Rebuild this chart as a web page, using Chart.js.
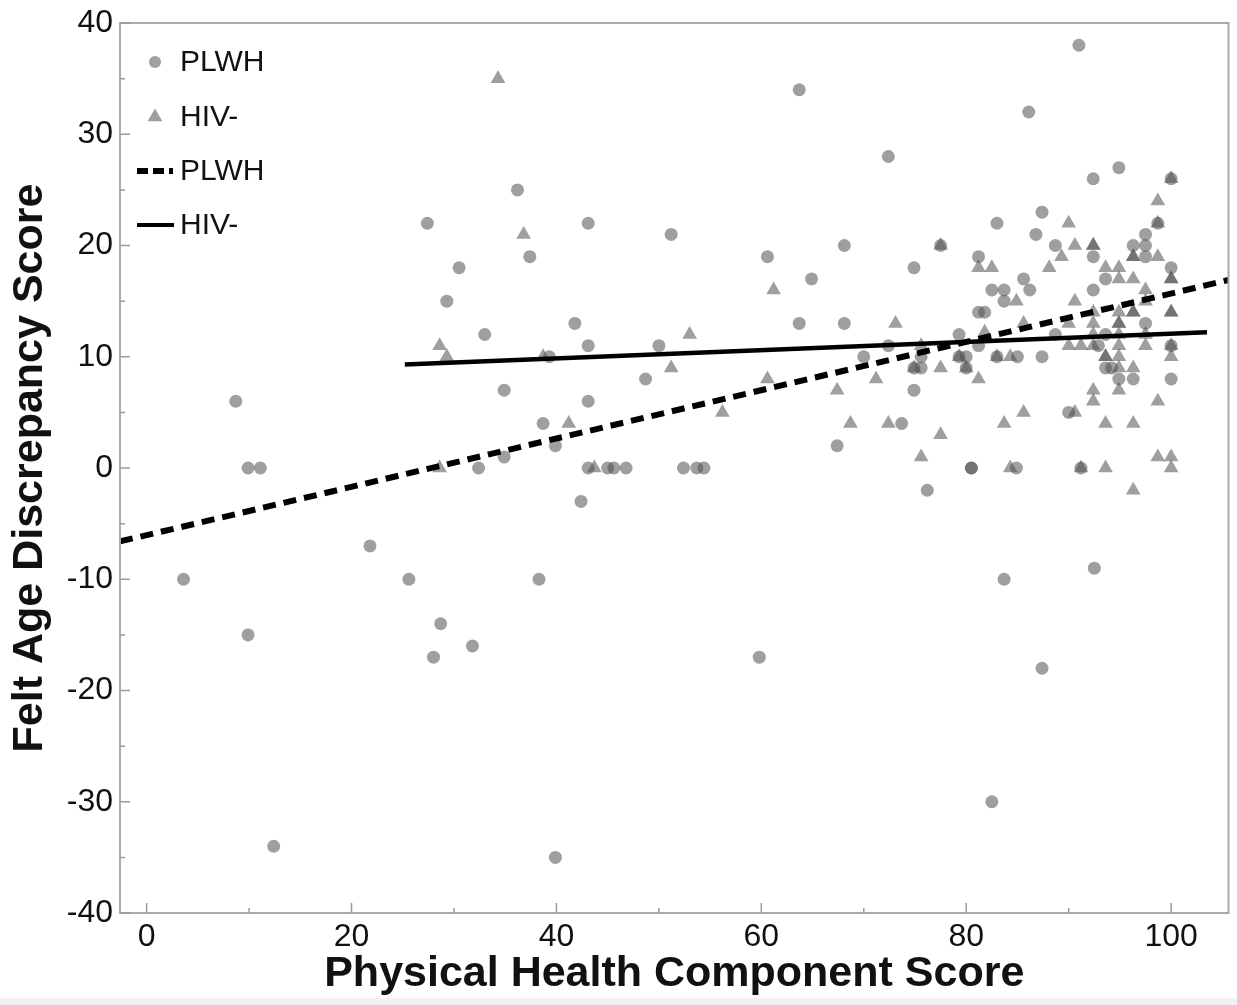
<!DOCTYPE html>
<html>
<head>
<meta charset="utf-8">
<script src="https://cdn.jsdelivr.net/npm/chart.js@4.4.1/dist/chart.umd.min.js"></script>
<style>
  html, body { margin: 0; padding: 0; background: #ffffff; }
  #wrap { width: 1237px; height: 1005px; position: relative; }
</style>
</head>
<body>
<div id="wrap"><canvas id="c" width="1237" height="1005"></canvas></div>
<script>
// ---- Data ----
const xTicks = [0, 20, 40, 60, 80, 100];
const yTicks = [-40, -30, -20, -10, 0, 10, 20, 30, 40];
const xMinorTicks = [10, 30, 50, 70, 90];
const yMinorTicks = [-35, -25, -15, -5, 5, 15, 25, 35];

// PLWH (circles)
const plwhX = [3.6, 8.7, 9.9, 11.1, 9.9, 12.4, 21.8, 25.6, 28.7, 28.0, 31.8, 34.9, 38.7, 34.9, 32.4, 38.3, 39.9, 59.8,
  63.7, 36.2, 27.4, 43.1, 51.2, 37.4, 30.5, 60.6, 64.9, 29.3, 41.8, 63.7, 33.0, 43.1, 50.0, 39.3, 48.7, 43.1, 39.9,
  43.1, 45.0, 45.6, 46.8, 52.4, 53.7, 54.4, 42.4,
  72.4, 94.9, 92.4, 100, 87.4, 83.0, 98.7, 68.1, 77.5, 86.8, 88.7, 92.4, 96.3, 97.5, 97.5, 97.5, 81.2, 74.9, 100,
  93.6, 85.6, 82.5, 83.7, 86.2, 92.4, 83.7, 81.2, 81.8, 97.5, 68.1, 88.7, 93.6, 79.3, 72.4, 81.2, 92.9, 100,
  70.0, 75.6, 79.3, 80.0, 83.0, 85.0, 87.4, 74.9, 75.6, 80.0, 93.6, 94.2, 94.9, 96.3, 74.9, 100, 90.0, 73.7, 67.4,
  76.2, 80.5, 80.5, 84.9, 91.2, 83.7, 92.5, 87.4, 82.5, 91.0, 86.1];
const plwhY = [-10, 6, 0, 0, -15, -34, -7, -10, -14, -17, -16, 7, 4, 1, 0, -10, -35, -17,
  34, 25, 22, 22, 21, 19, 18, 19, 17, 15, 13, 13, 12, 11, 11, 10, 8, 6, 2,
  0, 0, 0, 0, 0, 0, 0, -3,
  28, 27, 26, 26, 23, 22, 22, 20, 20, 21, 20, 19, 20, 21, 20, 19, 19, 18, 18,
  17, 17, 16, 16, 16, 16, 15, 14, 14, 13, 13, 12, 12, 12, 11, 11, 11, 11,
  10, 10, 10, 10, 10, 10, 10, 9, 9, 9, 9, 9, 8, 8, 7, 8, 5, 4, 2,
  -2, 0, 0, 0, 0, -10, -9, -18, -30, 38, 32];

// HIV- (triangles)
const hivX = [34.3, 36.8, 61.2, 53.0, 28.6, 29.3, 38.7, 51.2, 60.6, 56.2, 41.2, 28.6, 43.7,
  100, 98.7, 90.0, 98.7, 77.5, 90.6, 92.4, 92.4, 96.3, 96.3, 98.7, 89.3, 81.2, 82.5, 88.1, 93.6, 94.9,
  94.9, 96.3, 100, 100, 97.5, 97.5, 90.6, 84.9, 73.1, 85.6, 92.4, 96.3, 96.3, 100, 100, 94.9, 94.9, 94.9,
  90.0, 92.4, 92.4, 94.9, 97.5, 81.8, 75.6, 90.0, 91.2, 92.4, 94.9, 97.5, 100, 79.3, 83.0, 84.3, 93.6, 93.6,
  94.9, 100, 74.9, 77.5, 80.0, 94.9, 96.3, 81.2, 71.2, 67.4, 92.4, 94.9, 92.4, 98.7, 90.6, 85.6, 68.7, 72.4,
  83.7, 93.6, 96.3, 77.5, 75.6, 98.7, 100, 84.3, 91.2, 93.6, 100, 96.3];
const hivY = [35, 21, 16, 12, 11, 10, 10, 9, 8, 5, 4, 0, 0,
  26, 24, 22, 22, 20, 20, 20, 20, 19, 19, 19, 19, 18, 18, 18, 18, 18,
  17, 17, 17, 17, 16, 15, 15, 15, 13, 13, 14, 14, 14, 14, 14, 13, 13, 14,
  13, 13, 12, 12, 12, 12.2, 11, 11, 11, 11, 11, 11, 11, 10, 10, 10, 10, 10,
  10, 10, 9, 9, 9, 9, 9, 8, 8, 7, 7, 7, 6, 6, 5, 5, 4, 4,
  4, 4, 4, 3, 1, 1, 1, 0, 0, 0, 0, -2];

// Fitted lines (endpoints as drawn)
const plwhFitX = [-2.6, 105.6];
const plwhFitY = [-6.6, 16.9];
const hivFitX = [25.2, 103.5];
const hivFitY = [9.3, 12.2];

const legendLabels = ['PLWH', 'HIV-', 'PLWH', 'HIV-'];
const xTitle = 'Physical Health Component Score';
const yTitle = 'Felt Age Discrepancy Score';

// ---- Build ----
const toPts = (xs, ys) => xs.map((x, i) => ({ x: x, y: ys[i] }));
const FONT = '"Liberation Sans", Arial, Helvetica, sans-serif';
const markerColor = 'rgba(80,80,80,0.55)';

const framePlugin = {
  id: 'frameTicksLegend',
  afterDraw(chart) {
    const ctx = chart.ctx;
    const a = chart.chartArea;
    const xs = chart.scales.x, ys = chart.scales.y;
    ctx.save();
    // faint strip at the very bottom of the picture
    ctx.fillStyle = '#f2f2f2';
    ctx.fillRect(0, chart.height - 7, chart.width, 7);
    // frame
    ctx.strokeStyle = '#ababab';
    ctx.lineWidth = 2;
    ctx.strokeRect(a.left, a.top, a.right - a.left, a.bottom - a.top);
    // inward ticks
    ctx.strokeStyle = '#9a9a9a';
    ctx.lineWidth = 1.5;
    ctx.beginPath();
    xTicks.forEach(v => { const p = xs.getPixelForValue(v); ctx.moveTo(p, a.bottom); ctx.lineTo(p, a.bottom - 10); });
    xMinorTicks.forEach(v => { const p = xs.getPixelForValue(v); ctx.moveTo(p, a.bottom); ctx.lineTo(p, a.bottom - 5); });
    yTicks.forEach(v => { const p = ys.getPixelForValue(v); ctx.moveTo(a.left, p); ctx.lineTo(a.left + 10, p); });
    yMinorTicks.forEach(v => { const p = ys.getPixelForValue(v); ctx.moveTo(a.left, p); ctx.lineTo(a.left + 5, p); });
    ctx.stroke();

    // legend
    const lx = a.left + 35, tx = a.left + 60;
    const rows = [a.top + 39, a.top + 94, a.top + 148, a.top + 202];
    ctx.fillStyle = markerColor;
    ctx.beginPath(); ctx.arc(lx, rows[0], 6, 0, Math.PI * 2); ctx.fill();
    const r = 8.5;
    ctx.beginPath();
    ctx.moveTo(lx, rows[1] - r);
    ctx.lineTo(lx + r * Math.sin(Math.PI * 2 / 3), rows[1] + r * 0.5);
    ctx.lineTo(lx - r * Math.sin(Math.PI * 2 / 3), rows[1] + r * 0.5);
    ctx.closePath(); ctx.fill();
    ctx.strokeStyle = '#000';
    ctx.lineWidth = 6;
    ctx.setLineDash([11, 5]);
    ctx.beginPath(); ctx.moveTo(a.left + 17, rows[2]); ctx.lineTo(a.left + 53, rows[2]); ctx.stroke();
    ctx.setLineDash([]);
    ctx.lineWidth = 4;
    ctx.beginPath(); ctx.moveTo(a.left + 17, rows[3]); ctx.lineTo(a.left + 54, rows[3]); ctx.stroke();
    ctx.fillStyle = '#111';
    ctx.font = '30px ' + FONT;
    ctx.textBaseline = 'middle';
    ctx.textAlign = 'left';
    legendLabels.forEach((t, i) => ctx.fillText(t, tx, rows[i] + 1));
    ctx.restore();
  }
};

new Chart(document.getElementById('c'), {
  type: 'scatter',
  data: {
    datasets: [
      { label: 'PLWH fit', data: toPts(plwhFitX, plwhFitY), showLine: true, borderColor: '#000', borderWidth: 6,
        borderDash: [13, 8], pointRadius: 0, fill: false, order: 0 },
      { label: 'HIV- fit', data: toPts(hivFitX, hivFitY), showLine: true, borderColor: '#000', borderWidth: 4.5,
        pointRadius: 0, fill: false, order: 0 },
      { label: 'PLWH', data: toPts(plwhX, plwhY), pointStyle: 'circle', pointRadius: 6.5,
        backgroundColor: markerColor, borderWidth: 0, order: 1 },
      { label: 'HIV-', data: toPts(hivX, hivY), pointStyle: 'triangle', pointRadius: 8.5,
        backgroundColor: markerColor, borderWidth: 0, order: 1 }
    ]
  },
  options: {
    responsive: false,
    animation: false,
    layout: { padding: { top: 22, right: 8, left: 0, bottom: 0 } },
    plugins: { legend: { display: false }, tooltip: { enabled: false } },
    scales: {
      x: {
        type: 'linear', min: -2.6, max: 105.6,
        afterBuildTicks: s => { s.ticks = xTicks.map(v => ({ value: v })); },
        afterFit: s => { s.height = 92; },
        grid: { display: false, drawTicks: false },
        border: { display: false },
        ticks: { autoSkip: false, maxRotation: 0, padding: 5, color: '#111', font: { family: FONT, size: 32 } },
        title: { display: true, text: xTitle, color: '#111', padding: { top: 0, bottom: 5 },
          font: { family: FONT, size: 43, weight: 'bold' } }
      },
      y: {
        type: 'linear', min: -40, max: 40,
        afterBuildTicks: s => { s.ticks = yTicks.map(v => ({ value: v })); },
        afterFit: s => { s.width = 120; },
        grid: { display: false, drawTicks: false },
        border: { display: false },
        ticks: { autoSkip: false, padding: 7, color: '#111', font: { family: FONT, size: 32, lineHeight: 1.0 } },
        title: { display: true, text: yTitle, color: '#111', padding: { top: 4, bottom: 0 },
          font: { family: FONT, size: 43, weight: 'bold' } }
      }
    }
  },
  plugins: [framePlugin]
});
</script>
</body>
</html>
